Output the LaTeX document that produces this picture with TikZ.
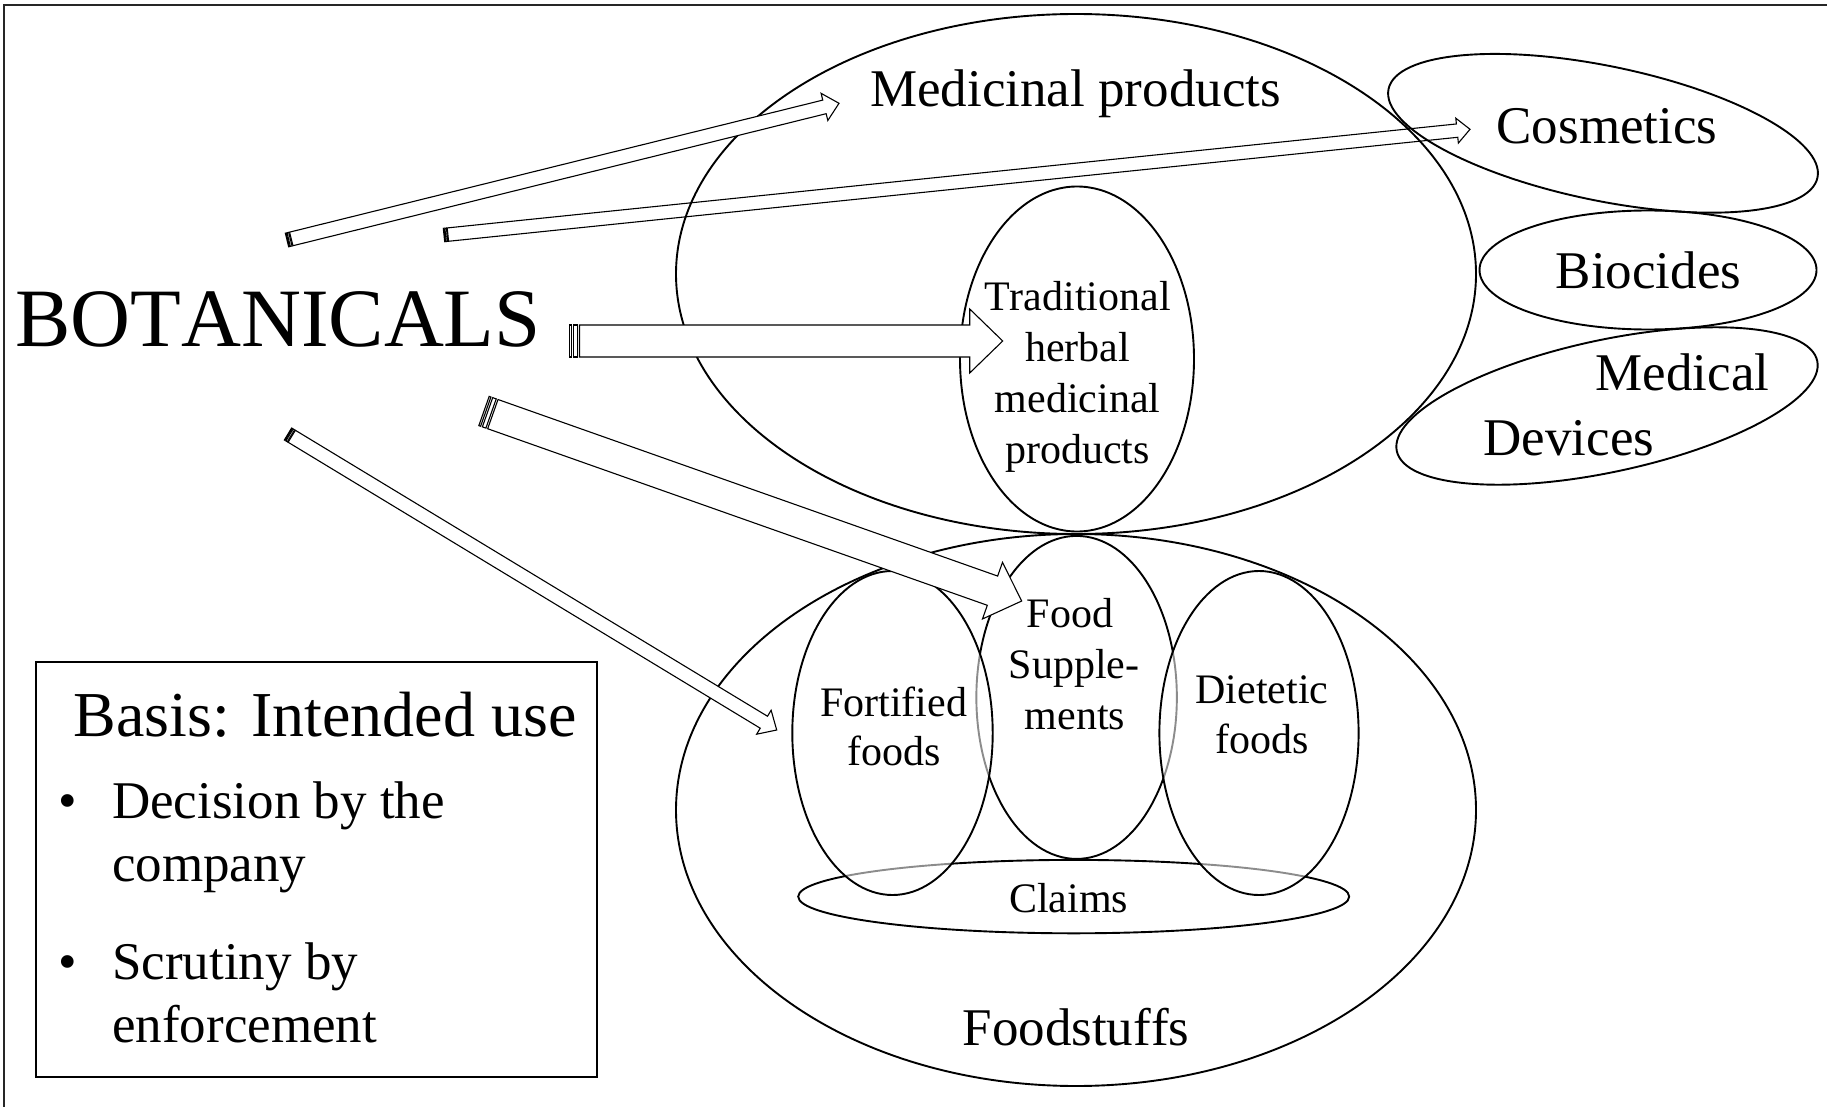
\documentclass[tikz,border=0pt]{standalone}
\usepackage{fontspec}
\setmainfont{Liberation Serif}[Kerning=Off]
\usetikzlibrary{calc,shapes.geometric}

% #1 name, #2 tail, #3 tip, #4 half shaft, #5 half head, #6 head length, #7 extra style
\newcommand\stripedarrow[7]{%
  \coordinate (#1-t) at #2;
  \coordinate (#1-h) at #3;
  \pgfmathsetmacro\sdA{#5/16}%
  \pgfmathsetmacro\sdB{#5/8}%
  \pgfmathsetmacro\sdC{#5/4}%
  \pgfmathsetmacro\sdD{#5*5/16}%
  \coordinate (#1-a) at ($(#1-t)!\sdA pt!(#1-h)$);
  \coordinate (#1-b) at ($(#1-t)!\sdB pt!(#1-h)$);
  \coordinate (#1-c) at ($(#1-t)!\sdC pt!(#1-h)$);
  \coordinate (#1-d) at ($(#1-t)!\sdD pt!(#1-h)$);
  \coordinate (#1-p) at ($(#1-h)!#6pt!(#1-t)$);
  \draw[blockline,#7] ($(#1-d)!#4pt!90:(#1-h)$) -- ($(#1-p)!#4pt!90:(#1-h)$)
     -- ($(#1-p)!#5pt!90:(#1-h)$) -- (#1-h) -- ($(#1-p)!#5pt!-90:(#1-h)$)
     -- ($(#1-p)!#4pt!-90:(#1-h)$) -- ($(#1-d)!#4pt!-90:(#1-h)$) -- cycle;
  \draw[blockline,#7] ($(#1-t)!#4pt!90:(#1-h)$) -- ($(#1-a)!#4pt!90:(#1-h)$)
     -- ($(#1-a)!#4pt!-90:(#1-h)$) -- ($(#1-t)!#4pt!-90:(#1-h)$) -- cycle;
  \draw[blockline,#7] ($(#1-b)!#4pt!90:(#1-h)$) -- ($(#1-c)!#4pt!90:(#1-h)$)
     -- ($(#1-c)!#4pt!-90:(#1-h)$) -- ($(#1-b)!#4pt!-90:(#1-h)$) -- cycle;
}

\begin{document}
\begin{tikzpicture}[x=1pt,y=-1pt,
  ell/.style={ellipse, draw, line width=1.9pt, inner sep=0pt},
  ghost/.style={fill=white, fill opacity=0.55},
  blockline/.style={draw, line width=1.1pt, fill=white, line join=miter},
  txtXL/.style={anchor=base, inner sep=0pt, font=\fontsize{83}{100}\selectfont},
  txtB/.style={anchor=base, inner sep=0pt, font=\fontsize{64}{77}\selectfont},
  txtL/.style={anchor=base, inner sep=0pt, font=\fontsize{53}{64}\selectfont},
  txtLW/.style={anchor=base west, inner sep=0pt, font=\fontsize{53}{64}\selectfont},
  txtM/.style={anchor=base, inner sep=0pt, font=\fontsize{42}{51}\selectfont}]

\useasboundingbox (0,0) rectangle (1827,1107);
\fill[white] (0,0) rectangle (1827,1107);
\draw[line width=1.5pt, black!85] (4,1107) -- (4,5) -- (1827,5);

% upper group
\node[ell, minimum width=800pt, minimum height=520pt] (med) at (1076,274) {};
\node[ell, rotate=-11.65, minimum width=438pt, minimum height=134.6pt] (cos) at (1603,133.3) {};
\node[ell, minimum width=337pt, minimum height=119pt] (bio) at (1648,270) {};
\node[ell, rotate=12.1, minimum width=430pt, minimum height=132pt] (mdev) at (1607,406) {};
\node[ell, minimum width=234pt, minimum height=345pt] (thmp) at (1077,359) {};

% lower group
\node[ell, minimum width=800pt, minimum height=552pt] (food) at (1076,810) {};
\node[ell, minimum width=551pt, minimum height=73.4pt] (claims) at (1073.7,896.6) {};
\node[ell, ghost, minimum width=200.5pt, minimum height=323pt] (supp) at (1076.6,697.4) {};
\node[ell, ghost, minimum width=199.2pt, minimum height=324pt] (diet) at (1259,733) {};
\node[ell, ghost, minimum width=200.4pt, minimum height=324pt] (fort) at (892.5,733) {};

% texts
\node[txtXL] (bot) at (278,346) {BOTANICALS};
\node[txtL] (tmed) at (1075.5,107) {Medicinal products};
\node[txtL] (tcos) at (1607,143.5) {Cosmetics};
\node[txtL] (tbio) at (1648.5,288.5) {Biocides};
\node[txtL] (tmd1) at (1682.5,390) {Medical};
\node[txtL] (tmd2) at (1569,455) {Devices};
\node[txtM] (tth1) at (1077.5,310) {Traditional};
\node[txtM] (tth2) at (1077.5,361.2) {herbal};
\node[txtM] (tth3) at (1077.5,412.5) {medicinal};
\node[txtM] (tth4) at (1077.5,463.7) {products};
\node[txtM] (tfs1) at (1070,627.5) {Food};
\node[txtM] (tfs2) at (1074,678) {Supple-};
\node[txtM] (tfs3) at (1075,729) {ments};
\node[txtM] (tff1) at (893.7,716.6) {Fortified};
\node[txtM] (tff2) at (893.7,765.5) {foods};
\node[txtM] (tdf1) at (1262,703.8) {Dietetic};
\node[txtM] (tdf2) at (1262,753.9) {foods};
\node[txtM] (tcl) at (1068.5,912.3) {Claims};
\node[txtL] (tfood) at (1076,1045.2) {Foodstuffs};

% legend box
\node[draw, line width=1.8pt, minimum width=560.6pt, minimum height=414.6pt, inner sep=0pt]
  (box) at (316.3,869.3) {};
\node[txtB] (basis) at (325,736.4) {Basis: Intended use};
\node[txtL] (bul1) at (67.6,818) {•};
\node[txtLW] (it1a) at (112,818) {Decision by the};
\node[txtLW] (it1b) at (112,881) {company};
\node[txtL] (bul2) at (67.6,979) {•};
\node[txtLW] (it2a) at (112,979) {Scrutiny by};
\node[txtLW] (it2b) at (112,1042) {enforcement};

% block arrows
\stripedarrow{aA}{(287,240)}{(839,103.3)}{7}{14}{15}{}
\stripedarrow{aB}{(444,235)}{(1470,129.3)}{6.7}{12.5}{13}{fill=none}
\stripedarrow{aC}{(569.5,341)}{(1002.7,341)}{16}{32}{33}{}
\stripedarrow{aD}{(484,411)}{(1021.7,601)}{15.5}{30}{31}{}
\stripedarrow{aE}{(288,434)}{(776.7,730)}{7}{14}{15}{}

\end{tikzpicture}
\end{document}
